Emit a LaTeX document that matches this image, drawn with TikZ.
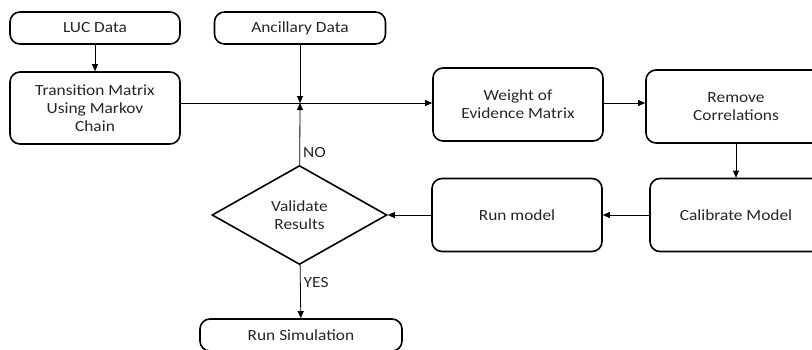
\documentclass[tikz,border=0pt]{standalone}
\usepackage{fontspec}
\setmainfont{Carlito}[FakeStretch=1.12]
\usetikzlibrary{shapes.geometric, arrows.meta, positioning}

\tikzset{
    box/.style={draw, line width=1.6pt, rounded corners=10pt, align=center,
        minimum width=170pt, text=black!85, font=\fontsize{15.5}{18}\selectfont},
    decision/.style={draw, diamond, line width=1.6pt, aspect=1.77, inner sep=0pt,
        minimum width=175pt, minimum height=99pt, align=center,
        text=black!85, font=\fontsize{15.5}{18}\selectfont},
    flow/.style={-{Triangle[length=7pt, width=6pt]}, line width=0.8pt},
    tag/.style={text=black!85, font=\fontsize{15.5}{18}\selectfont, inner sep=3pt},
}

\begin{document}
\begin{tikzpicture}[x=1pt, y=-1pt]
    % Page frame
    \useasboundingbox (0,0) rectangle (812,349);
    \clip (0,0) rectangle (812,349);

    % Input data
    \node[box, minimum height=32pt] (luc) at (95,28) {LUC Data};
    \node[box, minimum height=32pt, minimum width=171pt] (anc) at (300,28) {Ancillary Data};

    % Model chain
    \node[box, minimum height=72pt] (trans) at (95,108) {Transition Matrix\\Using Markov\\Chain};
    \node[box, minimum height=73pt] (woe) at (518,104.5) {Weight of\\Evidence Matrix};
    \node[box, minimum height=73pt, minimum width=180pt] (corr) at (736,106.5) {Remove\\Correlations};
    \node[box, minimum height=73pt, minimum width=172pt] (calib) at (736,215) {Calibrate Model};
    \node[box, minimum height=73pt] (run) at (517,215) {Run model};

    % Check and output
    \node[decision] (valid) at (299.5,215) {Validate\\Results};
    \node[box, minimum height=32pt, minimum width=202pt] (sim) at (301,335) {Run Simulation};

    % Junction on the main line
    \coordinate (join) at (300,103);

    % Connectors
    \draw[flow] (luc) -- (trans);
    \draw[flow] (trans.east |- join) -- (woe.west |- join);
    \draw[flow] (anc) -- (join);
    \draw[flow] (valid) -- node[tag, right, pos=0.2] (no) {NO} (join);
    \draw[flow] (woe.east |- join) -- (corr.west |- join);
    \draw[flow] (corr) -- (calib);
    \draw[flow] (calib) -- (run);
    \draw[flow] (run) -- (valid);
    \draw[flow] (valid) -- node[tag, right, pos=0.33] (yes) {YES} (sim);
\end{tikzpicture}
\end{document}
